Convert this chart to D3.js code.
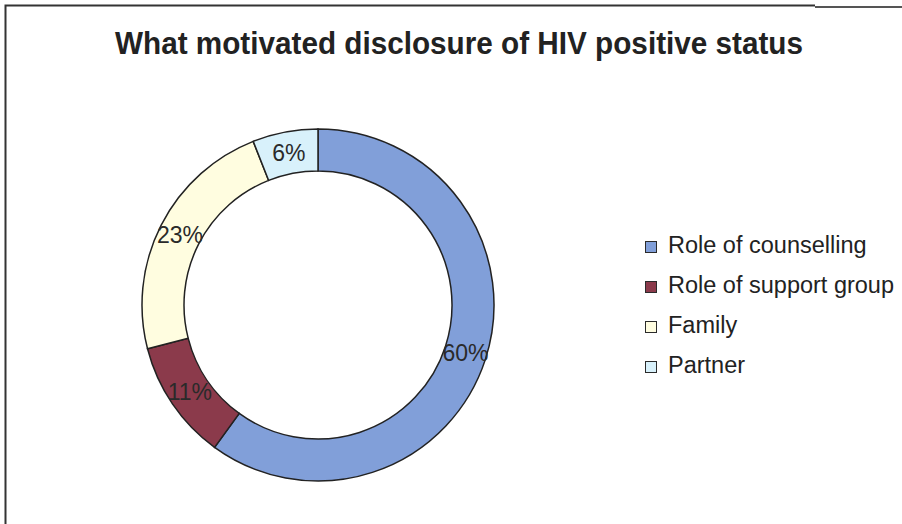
<!DOCTYPE html>
<html>
<head>
<meta charset="utf-8">
<script src="https://cdn.jsdelivr.net/npm/d3@7"></script>
<style>
  html, body { margin: 0; padding: 0; background: #fff; }
  svg { display: block; }
</style>
</head>
<body>
<svg id="chart" width="902" height="524"></svg>
<script>
// Data
const title = "What motivated disclosure of HIV positive status";
const categories = ["Role of counselling", "Role of support group", "Family", "Partner"];
const values = [60, 11, 23, 6];
const colors = ["#819fd9", "#8b3a4b", "#fffde0", "#d8f1fb"];

const svg = d3.select("#chart");
const W = 902, H = 524;

// Outer frame (left and top edges)
svg.append("path")
  .attr("d", `M5.5,${H} L5.5,5.5 L815,5.5`)
  .attr("fill", "none").attr("stroke", "#333").attr("stroke-width", 2);
svg.append("path")
  .attr("d", `M815,7 L${W},7`)
  .attr("fill", "none").attr("stroke", "#555").attr("stroke-width", 2);

// Title
svg.append("text")
  .attr("x", 459).attr("y", 54)
  .attr("text-anchor", "middle")
  .attr("font-family", "Liberation Sans, Arial, sans-serif")
  .attr("font-weight", "bold")
  .attr("font-size", 32)
  .attr("fill", "#222")
  .attr("textLength", 688)
  .attr("lengthAdjust", "spacingAndGlyphs")
  .text(title);

// Doughnut
const cx = 318, cy = 305;
const rOuter = 176, rInner = 134;
const pie = d3.pie().sort(null).value(d => d.value);
const arcs = pie(categories.map((c, i) => ({ name: c, value: values[i], color: colors[i] })));
const arc = d3.arc().innerRadius(rInner).outerRadius(rOuter);

const g = svg.append("g").attr("transform", `translate(${cx},${cy})`);
g.selectAll("path.slice")
  .data(arcs)
  .join("path")
  .attr("class", "slice")
  .attr("d", arc)
  .attr("fill", d => d.data.color)
  .attr("stroke", "#222")
  .attr("stroke-width", 1.5);

const total = d3.sum(values);
g.selectAll("text.pct")
  .data(arcs)
  .join("text")
  .attr("class", "pct")
  .attr("transform", d => `translate(${arc.centroid(d)})`)
  .attr("text-anchor", "middle")
  .attr("dy", "0.36em")
  .attr("font-family", "Liberation Sans, Arial, sans-serif")
  .attr("font-size", 23)
  .attr("fill", "#2a2a2a")
  .text(d => Math.round(d.data.value / total * 100) + "%");

// Legend
const legend = svg.append("g").attr("transform", "translate(645,253)");
const row = legend.selectAll("g.item")
  .data(categories)
  .join("g")
  .attr("class", "item")
  .attr("transform", (d, i) => `translate(0,${i * 40})`);
row.append("rect")
  .attr("x", 0.5).attr("y", -11.5)
  .attr("width", 11).attr("height", 11)
  .attr("fill", (d, i) => colors[i])
  .attr("stroke", "#2b2b2b").attr("stroke-width", 1);
row.append("text")
  .attr("x", 23).attr("y", 0)
  .attr("font-family", "Liberation Sans, Arial, sans-serif")
  .attr("font-size", 23.5)
  .attr("fill", "#222")
  .text(d => d);
</script>
</body>
</html>
